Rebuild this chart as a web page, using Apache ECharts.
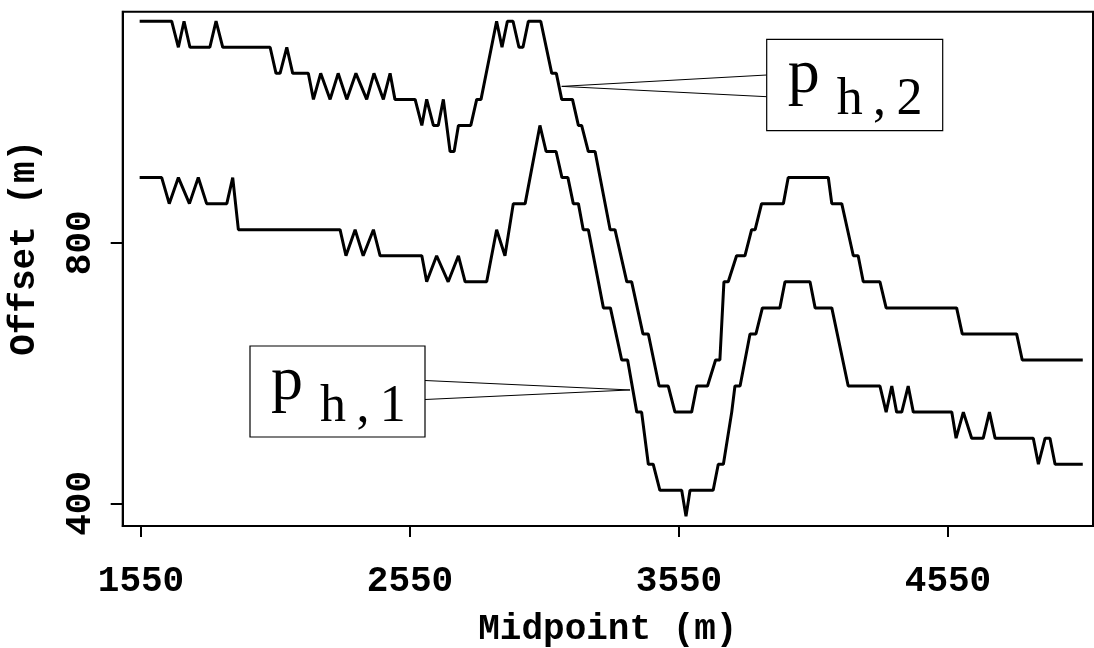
<!DOCTYPE html>
<html>
<head>
<meta charset="utf-8">
<script src="https://cdn.jsdelivr.net/npm/echarts@6/dist/echarts.min.js"></script>
<style>
html,body{margin:0;padding:0;background:#fff;}
#c{width:1094px;height:648px;}
</style>
</head>
<body>
<div id="c"></div>
<script>
// ---- data ----
const xTicks = [1550, 2550, 3550, 4550];
const yTicks = [400, 800];

// p_h,2 (upper curve) vertices: midpoint (m) and offset (m)
const ph2X = [1545,1664,1689,1710,1732,1806,1829,1854,2030,2052,2067,2092,2114,2172,
  2191,2218,2253,2283,2315,2349,2389,2416,2451,2476,2494,2569,2594,2612,2637,2655,2674,
  2699,2714,2730,2776,2798,2814,2872,2892,2912,2933,2955,2970,2990,3036,3077,3094,3114,
  3154,3176,3188,3213,3238,3294,3312,3356,3374,3416,3436,3476,3510,3535,3597,3616,3656,
  3686,3702,3717,3733,3764,3795,3820,3833,3857,3938,3956,4105,4118,4155,4198,4216,4235,
  4297,4320,4582,4603,4805,4826,5051];
const ph2Y = [1140,1140,1100,1140,1100,1100,1140,1100,1100,1060,1060,1100,1060,1060,
  1020,1060,1020,1060,1020,1060,1020,1060,1020,1060,1020,1020,980,1020,980,980,1020,
  940,940,980,980,1020,1020,1140,1100,1140,1140,1100,1100,1140,1140,1060,1060,1020,
  1020,980,980,940,940,820,820,740,740,660,660,580,580,540,540,580,580,
  620,620,740,740,780,780,820,820,860,860,900,900,860,860,780,780,740,
  740,700,700,660,660,620,620];

// p_h,1 (lower curve) vertices
const ph1X = [1545,1627,1655,1689,1730,1763,1794,1869,1891,1912,2290,2312,2346,2376,2414,
  2439,2594,2612,2649,2692,2730,2755,2835,2872,2903,2934,2978,3033,3056,3093,3115,3137,
  3157,3176,3194,3213,3269,3295,3337,3359,3393,3411,3436,3454,3479,3560,3576,3591,3677,
  3696,3715,3746,3758,3777,3814,3836,3860,3925,3944,4037,4056,4118,4179,4297,4320,4341,
  4359,4378,4402,4421,4564,4580,4607,4638,4681,4704,4725,4867,4886,4911,4929,4948,5051];
const ph1Y = [900,900,860,900,860,900,860,860,900,820,820,780,820,780,820,
  780,780,740,780,740,780,740,740,820,780,860,860,980,940,940,900,900,
  860,860,820,820,700,700,620,620,540,540,460,460,420,420,380,420,420,
  460,460,540,580,580,660,660,700,700,740,740,700,700,580,580,540,580,
  540,540,580,540,540,500,540,500,500,540,500,500,460,500,500,460,460];

const labelNames = ['h,2', 'h,1'];
// anchor points (on the curves) for the label leaders
const anchorX = [3114, 3368];
const anchorY = [1040, 574];

function pairs(xs, ys){ return xs.map((x,i)=>[x, ys[i]]); }

const FONT = '"Liberation Mono", "DejaVu Sans Mono", monospace';
const chart = echarts.init(document.getElementById('c'), null, {renderer:'canvas'});

const option = {
  animation: false,
  backgroundColor: '#ffffff',
  grid: {left: 122.7, top: 11.7, right: 1, bottom: 122, show: true,
         borderColor: '#000', borderWidth: 2, containLabel: false, outerBoundsMode: 'none'},
  xAxis: {
    type: 'value', min: 1482, max: 5089,
    name: 'Midpoint (m)', nameLocation: 'middle', nameGap: 86,
    nameTextStyle: {fontFamily: FONT, fontWeight: 'bold', fontSize: 36, color: '#000'},
    axisLine: {show: true, lineStyle: {color: '#000', width: 2}},
    axisTick: {show: true, length: 11, inside: false, customValues: xTicks, lineStyle: {color:'#000', width: 2}},
    axisLabel: {customValues: xTicks, margin: 38, fontFamily: FONT, fontWeight: 'bold', fontSize: 36, color: '#000',
                formatter: v => String(v)},
    splitLine: {show: false}
  },
  yAxis: {
    type: 'value', min: 365.2, max: 1154.6,
    name: 'Offset (m)', nameLocation: 'middle', nameGap: 80,
    nameTextStyle: {fontFamily: FONT, fontWeight: 'bold', fontSize: 36, color: '#000', padding: [0,0,0,42]},
    axisLine: {show: true, lineStyle: {color: '#000', width: 2}},
    axisTick: {show: true, length: 12, inside: false, customValues: yTicks, lineStyle: {color:'#000', width: 2}},
    axisLabel: {customValues: yTicks, rotate: 90, margin: 24, fontFamily: FONT, fontWeight: 'bold', fontSize: 36, color: '#000',
                formatter: v => String(v)},
    splitLine: {show: false}
  },
  series: [
    {type: 'line', name: 'p_h,2', data: pairs(ph2X, ph2Y), showSymbol: false, symbol: 'none',
     lineStyle: {color: '#000', width: 3}, z: 3},
    {type: 'line', name: 'p_h,1', data: pairs(ph1X, ph1Y), showSymbol: false, symbol: 'none',
     lineStyle: {color: '#000', width: 3}, z: 3}
  ]
};
chart.setOption(option);

// label boxes with leader lines (box layout in pixels, anchors through the axes)
const boxes = [
  {left: 766.7, top: 39.3, w: 176, h: 91.4, side: 'left',  ly: [35.7, 57.4]},
  {left: 250,   top: 346,  w: 175, h: 91,   side: 'right', ly: [34.5, 53.5]}
];
const SERIF = '"Liberation Serif", "DejaVu Serif", serif';
const graphics = [];
boxes.forEach((b, i) => {
  const a = chart.convertToPixel({gridIndex: 0}, [anchorX[i], anchorY[i]]);
  const ex = b.side === 'left' ? b.left : b.left + b.w;
  graphics.push({type: 'polyline', silent: true, z: 10,
    shape: {points: [[ex, b.top + b.ly[0]], a, [ex, b.top + b.ly[1]]]},
    style: {stroke: '#000', lineWidth: 1, fill: null}});
  graphics.push({type: 'rect', silent: true, z: 10,
    shape: {x: b.left, y: b.top, width: b.w, height: b.h},
    style: {stroke: '#000', lineWidth: 1.2, fill: '#fff'}});
  graphics.push({type: 'text', silent: true, z: 11,
    x: b.left + 21, y: b.top + 68,
    style: {text: 'p', font: 'normal 64px ' + SERIF, fill: '#000', align: 'left', verticalAlign: 'bottom'}});
  graphics.push({type: 'text', silent: true, z: 11,
    x: b.left + 70, y: b.top + 87,
    style: {text: labelNames[i].replace(',', ' , ').replace(/ /g, '\u2009'), font: 'normal 52px ' + SERIF, fill: '#000', align: 'left', verticalAlign: 'bottom'}});
});
chart.setOption({graphic: graphics});
</script>
</body>
</html>
